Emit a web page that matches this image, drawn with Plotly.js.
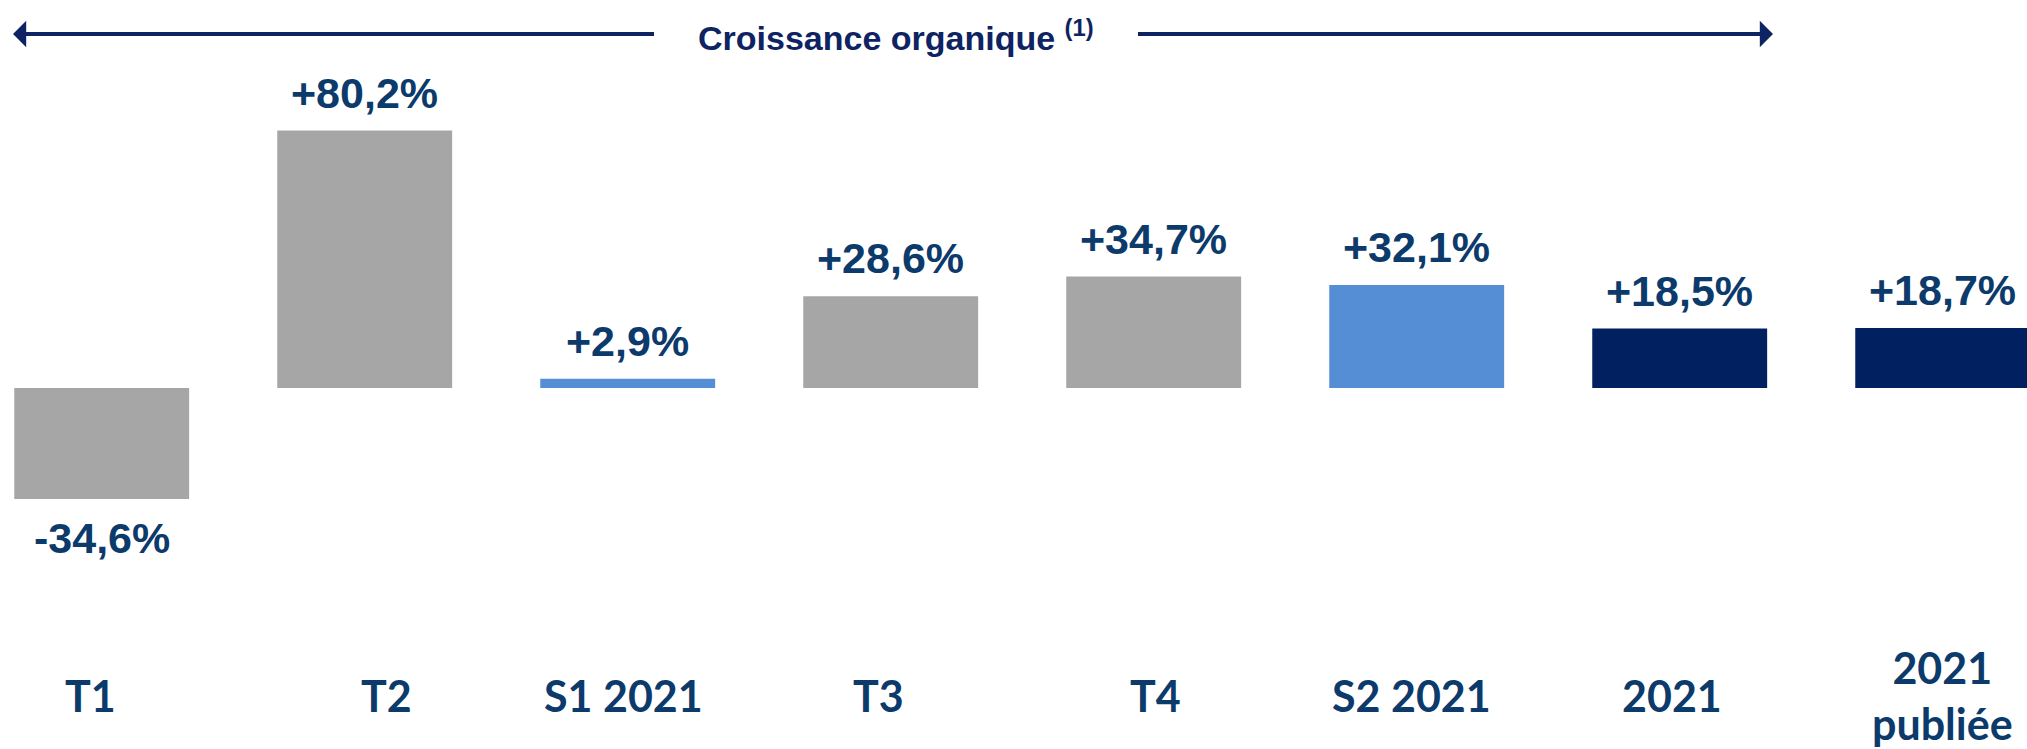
<!DOCTYPE html>
<html>
<head>
<meta charset="utf-8">
<script src="https://cdn.plot.ly/plotly-3.0.1.min.js"></script>
<style>
  html, body { margin: 0; padding: 0; background: #ffffff; }
  #chart { width: 2027px; height: 749px; }
</style>
</head>
<body>
<div id="chart"></div>
<script>
// ---- Data ----
const categories = ["T1", "T2", "S1 2021", "T3", "T4", "S2 2021", "2021", "2021<br>publiée"];
const growthValues = [-34.6, 80.2, 2.9, 28.6, 34.7, 32.1, 18.5, 18.7];
const headerTitle = "Croissance organique";
const headerNote = "(1)";

// ---- Styles ----
const GRAY = "#a6a6a6", LIGHT_BLUE = "#558ed5", NAVY = "#002060";
const barColors = [GRAY, GRAY, LIGHT_BLUE, GRAY, GRAY, LIGHT_BLUE, NAVY, NAVY];
const labelColor = "#0b3a6b";
const titleColor = "#0e2362";
const catShift = [-11, 22, -4, -12, 2, -5, -8, 0];

const W = 2027, H = 749;
const zeroPx = 388, pxPerUnit = 3.21;
const yTop = zeroPx / pxPerUnit;
const yBottom = yTop - H / pxPerUnit;
const catPx = 263, firstCenterPx = 101.7;
const x0 = -firstCenterPx / catPx;
const x1 = x0 + W / catPx;

function fmt(v) {
  return (v > 0 ? "+" : "") + v.toFixed(1).replace(".", ",") + "%";
}
const idx = categories.map((_, i) => i);

const trace = {
  type: "bar",
  x: idx,
  y: growthValues,
  marker: { color: barColors, line: { width: 0 } },
  hoverinfo: "skip"
};

const annotations = [];
growthValues.forEach((v, i) => {
  annotations.push({
    xref: "x", yref: "y", x: i, y: v,
    text: "<b>" + fmt(v) + "</b>",
    showarrow: false,
    xanchor: "center",
    yanchor: v >= 0 ? "bottom" : "top",
    yshift: v >= 0 ? 12 : -13,
    font: { family: "Liberation Sans, Arial, sans-serif", size: 43, color: labelColor }
  });
});
categories.forEach((c, i) => {
  annotations.push({
    xref: "x", yref: "paper", x: i, y: 1 - 695 / H,
    xshift: catShift[i],
    text: "<b>" + c + "</b>",
    showarrow: false,
    xanchor: "center", yanchor: "middle",
    align: "center",
    font: { family: "Lato, Carlito, Calibri, sans-serif", size: 43, color: labelColor }
  });
});
// header
annotations.push({
  xref: "paper", yref: "paper", x: 896 / W, y: 1 - 35 / H,
  text: "<b>" + headerTitle + " <sup>" + headerNote + "</sup></b>",
  showarrow: false, xanchor: "center", yanchor: "middle",
  font: { family: "Liberation Sans, Arial, sans-serif", size: 34, color: titleColor }
});
// arrows
annotations.push({
  xref: "paper", yref: "paper", x: 13 / W, y: 1 - 34 / H,
  ax: 657 - 13, ay: 0, text: " ",
  showarrow: true, arrowhead: 1, arrowsize: 1.1, arrowwidth: 4, arrowcolor: titleColor
});
annotations.push({
  xref: "paper", yref: "paper", x: 1773 / W, y: 1 - 34 / H,
  ax: 1135 - 1773, ay: 0, text: " ",
  showarrow: true, arrowhead: 1, arrowsize: 1.1, arrowwidth: 4, arrowcolor: titleColor
});

const layout = {
  width: W, height: H,
  margin: { l: 0, r: 0, t: 0, b: 0 },
  paper_bgcolor: "#ffffff", plot_bgcolor: "#ffffff",
  showlegend: false,
  bargap: 0.335,
  xaxis: {
    type: "linear", range: [x0, x1],
    showgrid: false, zeroline: false, showticklabels: false, ticks: "", showline: false
  },
  yaxis: {
    range: [yBottom, yTop],
    showgrid: false, zeroline: false, showticklabels: false, ticks: "", showline: false
  },
  annotations: annotations
};

Plotly.newPlot("chart", [trace], layout, { staticPlot: true, displayModeBar: false });
</script>
</body>
</html>
